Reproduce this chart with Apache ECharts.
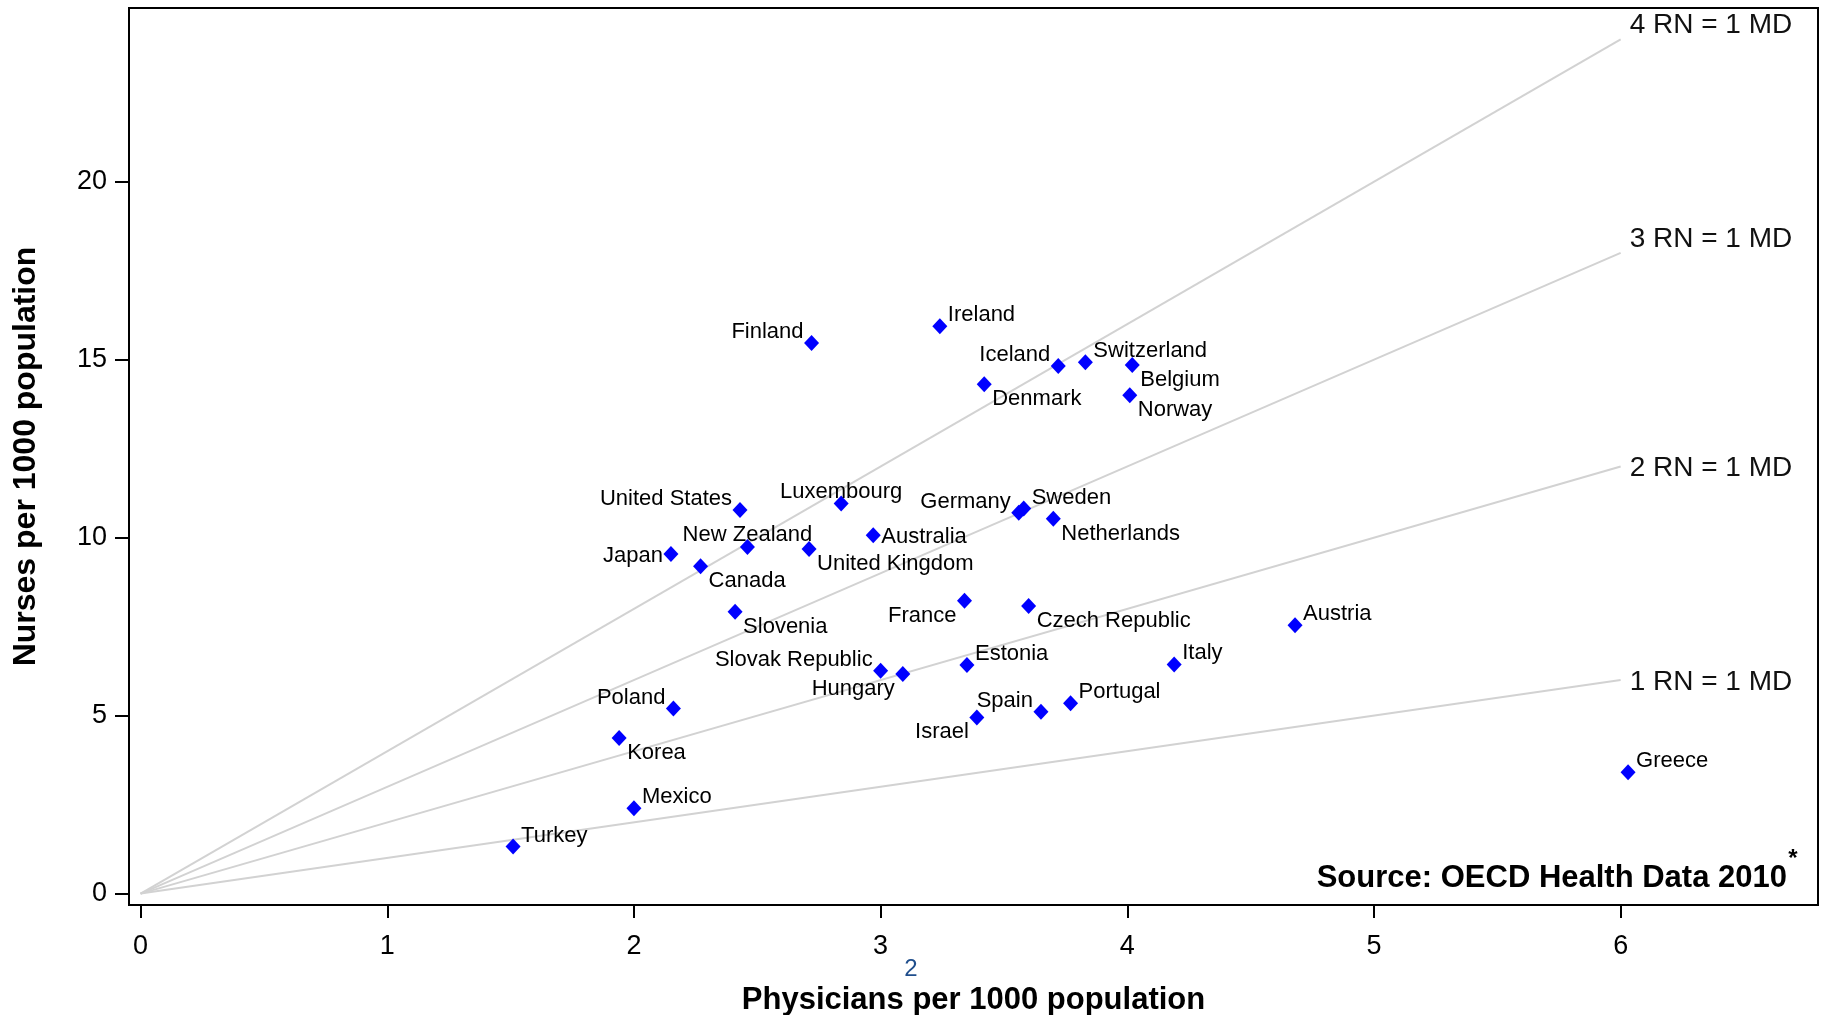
<!DOCTYPE html>
<html><head><meta charset="utf-8">
<script src="https://cdn.jsdelivr.net/npm/echarts@6/dist/echarts.min.js"></script>
<style>html,body{margin:0;padding:0;background:#fff}#c{width:1822px;height:1015px}</style>
</head><body><div id="c"></div>
<script>
// ---- data ----
const countries = ['Finland','Ireland','Iceland','Switzerland','Belgium','Denmark','Norway','United States','Luxembourg','Germany','Sweden','Netherlands','Australia','New Zealand','United Kingdom','Japan','Canada','France','Czech Republic','Slovenia','Austria','Slovak Republic','Hungary','Estonia','Italy','Portugal','Spain','Israel','Poland','Korea','Mexico','Turkey','Greece'];
const physicians = [2.72,3.24,3.72,3.83,4.02,3.42,4.01,2.43,2.84,3.56,3.58,3.70,2.97,2.46,2.71,2.15,2.27,3.34,3.60,2.41,4.68,3.00,3.09,3.35,4.19,3.77,3.65,3.39,2.16,1.94,2.00,1.51,6.03];
const nurses = [15.47,15.94,14.82,14.93,14.85,14.31,14.00,10.78,10.96,10.70,10.82,10.53,10.07,9.74,9.68,9.54,9.20,8.23,8.08,7.92,7.54,6.26,6.17,6.42,6.44,5.35,5.11,4.95,5.20,4.37,2.40,1.32,3.41];
const refRatios = [4,3,2,1];
const refLineEnd = 6;
const xTicks = [0,1,2,3,4,5,6];
const yTicks = [0,5,10,15,20];

// ---- styling: label placement around each marker ----
const labelPlace = {
  'Finland':'tl','Ireland':'tr','Iceland':'tl','Switzerland':'tr','Belgium':'br','Denmark':'br','Norway':'br',
  'United States':'tl','Luxembourg':'t','Germany':'tl','Sweden':'tr','Netherlands':'br','Australia':'r',
  'New Zealand':'t','United Kingdom':'br','Japan':'l','Canada':'br','France':'bl','Czech Republic':'br',
  'Slovenia':'br','Austria':'tr','Slovak Republic':'tl','Hungary':'bl','Estonia':'tr','Italy':'tr',
  'Portugal':'tr','Spain':'tl','Israel':'bl','Poland':'tl','Korea':'br','Mexico':'tr','Turkey':'tr','Greece':'tr'
};
const placeStyle = {
  tr:{align:'left', offset:[8,-11]}, tl:{align:'right', offset:[-8,-11]},
  br:{align:'left', offset:[8,15]}, bl:{align:'right', offset:[-8,15]},
  r:{align:'left', offset:[8,2]}, l:{align:'right', offset:[-8,2]},
  t:{align:'center', offset:[0,-12]}
};
const refLabelShift = [-14,-14,2,2];
const FONT = "'Liberation Sans', Arial, Helvetica, sans-serif";

const chart = echarts.init(document.getElementById('c'), null, {renderer:'canvas'});

const scatterData = countries.map((c,i)=>({
  name:c, value:[physicians[i], nurses[i]],
  label:{show:true, position:'inside', verticalAlign:'middle', ...placeStyle[labelPlace[c]]}
}));

const lineSeries = refRatios.map((k,i)=>({
  type:'line', silent:true, z:1, symbol:'none',
  data:[[0,0],[refLineEnd, refLineEnd*k]],
  lineStyle:{color:'#d2d2d2', width:2},
  endLabel:{show:true, formatter:k+' RN = 1 MD', fontSize:28, fontFamily:FONT, color:'#111',
            distance:9, offset:[0, refLabelShift[i]]}
}));

chart.setOption({
  animation:false,
  backgroundColor:'#fff',
  grid:{left:129, right:4, top:8, bottom:110, show:true, borderColor:'#000', borderWidth:2,
        backgroundColor:'transparent', containLabel:false, outerBoundsMode:'none'},
  xAxis:{
    type:'value', min:-0.047, max:6.8,
    axisLine:{show:true, onZero:false, lineStyle:{color:'#000', width:2}},
    axisTick:{show:true, inside:false, length:13, customValues:xTicks, lineStyle:{color:'#000', width:2}},
    axisLabel:{customValues:xTicks, fontSize:27, fontFamily:FONT, color:'#000', margin:28},
    splitLine:{show:false},
    name:'Physicians per 1000 population', nameLocation:'middle', nameGap:80, nameMoveOverlap:false,
    nameTextStyle:{fontSize:31, fontWeight:'bold', fontFamily:FONT, color:'#000'}
  },
  yAxis:{
    type:'value', min:-0.32, max:24.88,
    axisLine:{show:true, onZero:false, lineStyle:{color:'#000', width:2}},
    axisTick:{show:true, inside:false, length:14, customValues:yTicks, lineStyle:{color:'#000', width:2}},
    axisLabel:{customValues:yTicks, fontSize:27, fontFamily:FONT, color:'#000', margin:22},
    splitLine:{show:false},
    name:'Nurses per 1000 population', nameLocation:'middle', nameGap:87, nameMoveOverlap:false,
    nameTextStyle:{fontSize:32, fontWeight:'bold', fontFamily:FONT, color:'#000'}
  },
  series:[
    ...lineSeries,
    {
      type:'scatter', z:3, symbol:'diamond', symbolSize:[15,16],
      itemStyle:{color:'#0000ff', opacity:1},
      label:{show:true, formatter:'{b}', fontSize:22, fontFamily:FONT, color:'#000'},
      data:scatterData
    }
  ],
  graphic:[
    {type:'text', style:{text:'2', x:911, y:969, align:'center', verticalAlign:'middle',
      fontSize:24, fontFamily:FONT, fill:'#1f4e8c'}},
    {type:'text', style:{text:'Source: OECD Health Data 2010', x:1787, y:878, align:'right', verticalAlign:'middle',
      fontSize:31, fontWeight:'bold', fontFamily:FONT, fill:'#000'}},
    {type:'text', style:{text:'*', x:1793, y:847, align:'center', verticalAlign:'top',
      fontSize:24, fontWeight:'bold', fontFamily:FONT, fill:'#000'}}
  ]
});
</script></body></html>
